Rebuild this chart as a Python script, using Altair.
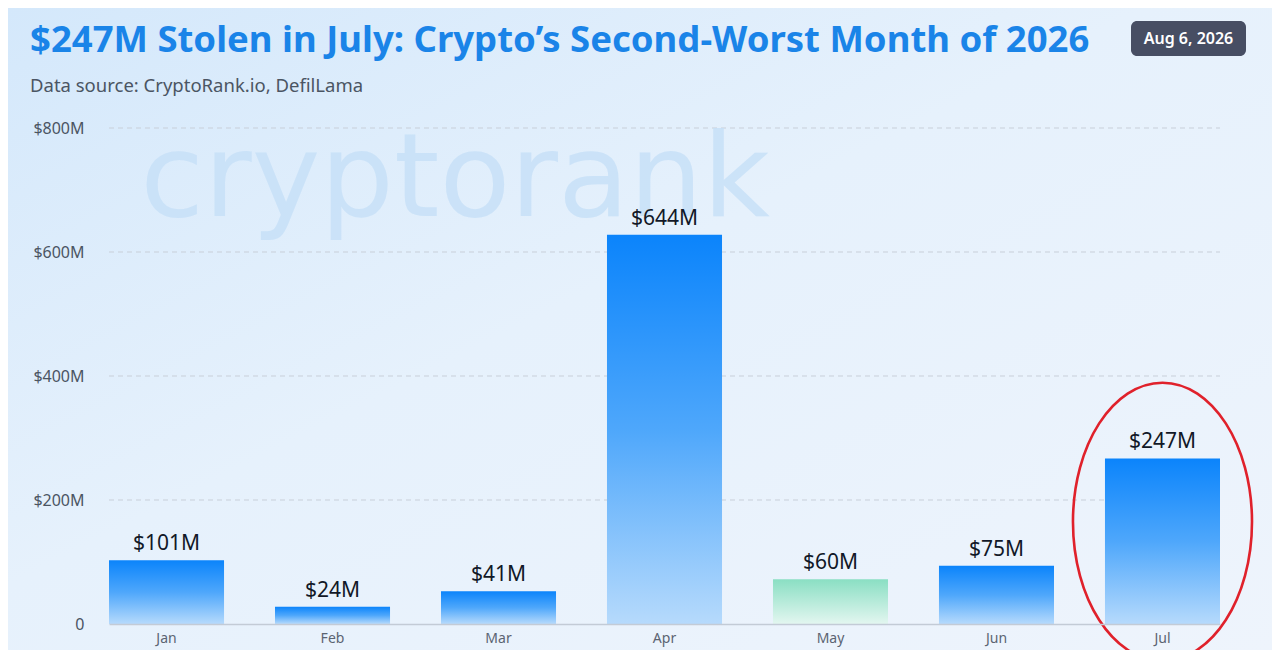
import altair as alt
import pandas as pd

# ---- data ----
months = ["Jan", "Feb", "Mar", "Apr", "May", "Jun", "Jul"]
bar_heights = [103, 28, 53, 628, 72, 94, 267]          # drawn bar heights ($M)
value_labels = ["$101M", "$24M", "$41M", "$644M", "$60M", "$75M", "$247M"]
green_month = "May"
highlight_month = "Jul"
highlight_center = 165
y_ticks = [0, 200, 400, 600, 800]
grid_values = [200, 400, 600, 800]

title_text = "$247M Stolen in July: Crypto\u2019s Second-Worst Month of 2026"
subtitle_text = "Data source: CryptoRank.io, DefilLama"
date_text = "Aug 6, 2026"
watermark_text = "cryptorank"

df = pd.DataFrame({"month": months, "value": bar_heights, "label": value_labels})
grid_df = pd.DataFrame({"value": grid_values})

W, H = 1111, 496
PL, PT, PR, PB = 101, 120, 52, 26

x_enc = alt.X(
    "month:N", sort=months,
    scale=alt.Scale(paddingInner=0.307, paddingOuter=0),
    axis=alt.Axis(title=None, labelAngle=0, ticks=False, tickSize=0,
                  domainColor="#c3cbd6", domainWidth=1.5,
                  labelColor="#5b6472", labelFontSize=14, labelPadding=7,
                  labelFont="Noto Sans", zindex=1),
)
y_enc = alt.Y(
    "value:Q",
    scale=alt.Scale(domain=[0, 800], nice=False),
    axis=alt.Axis(title=None, values=y_ticks,
                  labelExpr="datum.value == 0 ? '0' : '$' + datum.value + 'M'",
                  grid=False, domain=False, ticks=False, tickSize=0, labelPadding=25,
                  labelFontSize=16, labelColor="#4b5563", labelFont="Noto Sans",
                  zindex=1),
)

one = alt.Data(values=[{"a": 1}])

bg = alt.Chart(one).mark_rect(
    color=alt.Gradient(gradient="linear", x1=0, y1=0, x2=1, y2=1,
                       stops=[alt.GradientStop(color="#d4e8fb", offset=0),
                              alt.GradientStop(color="#e6f1fc", offset=0.45),
                              alt.GradientStop(color="#eef4fc", offset=1)])
).encode(x=alt.value(-PL), x2=alt.value(W + PR), y=alt.value(-PT), y2=alt.value(H + PB))

grid = alt.Chart(grid_df).mark_rule(
    color="#c8cfd9", strokeWidth=1, strokeDash=[5, 4]
).encode(y=alt.Y("value:Q"), x=alt.value(0), x2=alt.value(W))

watermark = alt.Chart(one).mark_text(
    text=watermark_text, fontSize=116, font="DejaVu Sans", fontWeight="normal",
    color="#c6e0f8", opacity=0.8, align="center", baseline="alphabetic"
).encode(x=alt.value(346), y=alt.value(88))

base = alt.Chart(df)

blue_bars = base.transform_filter(alt.datum.month != green_month).mark_bar(
    color=alt.Gradient(gradient="linear", x1=0, y1=0, x2=0, y2=1,
                       stops=[alt.GradientStop(color="#0b84fb", offset=0),
                              alt.GradientStop(color="#4ea7fb", offset=0.5),
                              alt.GradientStop(color="#b6dafc", offset=1)])
).encode(x=x_enc, y=y_enc)

green_bars = base.transform_filter(alt.datum.month == green_month).mark_bar(
    color=alt.Gradient(gradient="linear", x1=0, y1=0, x2=0, y2=1,
                       stops=[alt.GradientStop(color="#8adfc3", offset=0),
                              alt.GradientStop(color="#e3f6f0", offset=1)])
).encode(x=alt.X("month:N", sort=months), y=alt.Y("value:Q"))

labels = base.mark_text(
    fontSize=21, font="Noto Sans", color="#111827", baseline="alphabetic", dy=-10
).encode(x=alt.X("month:N", sort=months), y=alt.Y("value:Q"), text="label:N")

a, k = 0.644, 0.5523
ellipse_path = (
    f"M {-a} 0 C {-a} {-k} {-a*k} -1 0 -1 "
    f"C {a*k} -1 {a} {-k} {a} 0 "
    f"C {a} {k} {a*k} 1 0 1 "
    f"C {-a*k} 1 {-a} {k} {-a} 0 Z"
)
ellipse = alt.Chart(one).mark_point(
    shape=ellipse_path, filled=False, stroke="#e0212b", strokeWidth=2.6,
    size=278 * 278, opacity=1
).encode(x=alt.datum(highlight_month, type="nominal"),
         y=alt.datum(highlight_center, type="quantitative"))

title = alt.Chart(one).mark_text(
    text=title_text, fontSize=36.5, font="Noto Sans", fontWeight="bold",
    color="#1a84e8", align="left", baseline="middle"
).encode(x=alt.value(-79), y=alt.value(-87))

subtitle = alt.Chart(one).mark_text(
    text=subtitle_text, fontSize=18.5, font="Noto Sans",
    color="#4b5563", align="left", baseline="middle"
).encode(x=alt.value(-79), y=alt.value(-42))

badge = alt.Chart(one).mark_rect(
    color="#474e63", cornerRadius=6
).encode(x=alt.value(1022), x2=alt.value(1137), y=alt.value(-107), y2=alt.value(-72))

badge_text = alt.Chart(one).mark_text(
    text=date_text, fontSize=16, font="Noto Sans", fontWeight=600,
    color="#ffffff", align="center", baseline="middle"
).encode(x=alt.value(1079.5), y=alt.value(-89))

chart = alt.layer(
    bg, grid, watermark, blue_bars, green_bars, labels, ellipse,
    title, subtitle, badge, badge_text
).properties(
    width=W, height=H,
    autosize=alt.AutoSizeParams(type="none"),
    padding={"left": PL, "top": PT, "right": PR, "bottom": PB},
).configure(background="#e8f1fb").configure_view(stroke=None)

chart.save("out.html", embed_options={"renderer": "svg", "actions": False})
